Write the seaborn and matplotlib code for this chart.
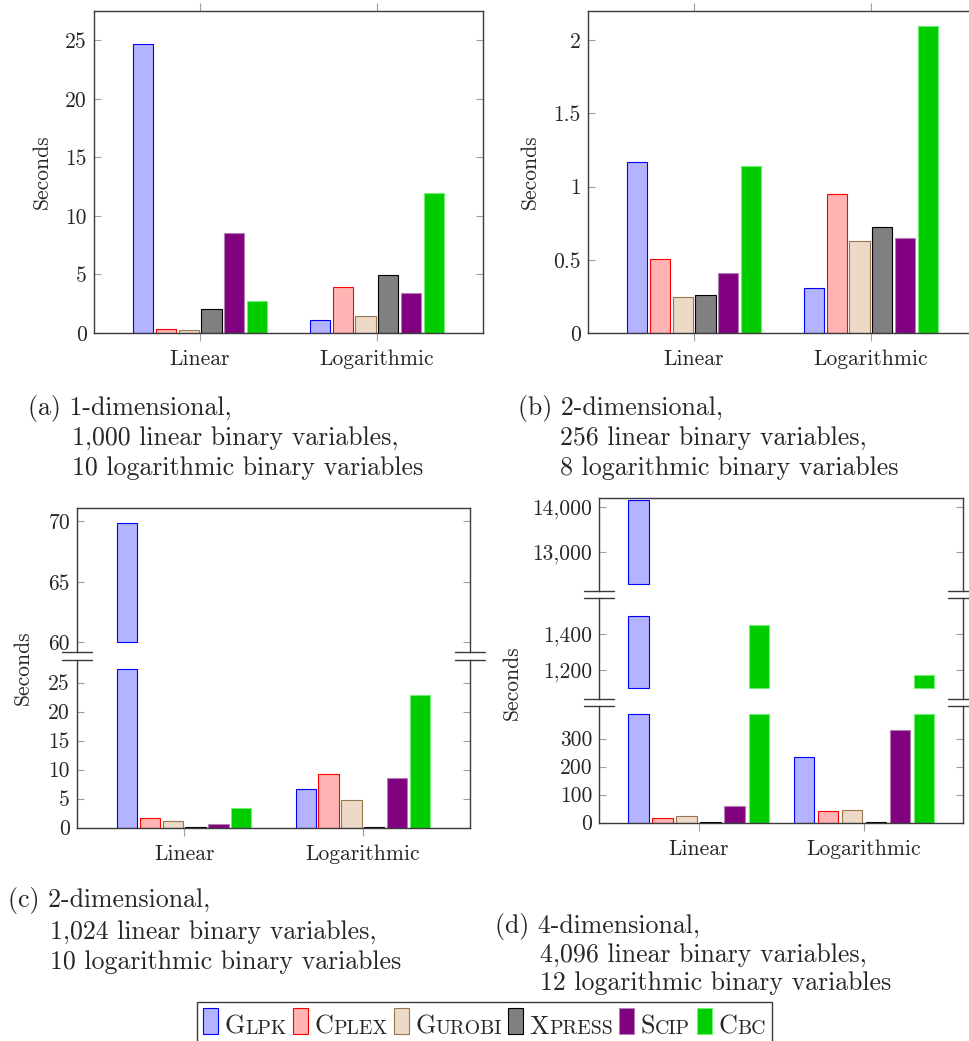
import numpy as np
import pandas as pd
import matplotlib.pyplot as plt
import seaborn as sns
from matplotlib.colors import to_hex
from matplotlib.lines import Line2D
from matplotlib.patches import Rectangle
from matplotlib.offsetbox import AnchoredOffsetbox, DrawingArea, HPacker, TextArea

solvers = ["Glpk", "Cplex", "Gurobi", "Xpress", "Scip", "Cbc"]
encodings = ["Linear", "Logarithmic"]

# seconds, one entry per solver (same order as `solvers`)
a_linear = [24.7, 0.33, 0.25, 2.05, 8.55, 2.72]
a_log = [1.12, 3.95, 1.42, 4.92, 3.45, 11.95]
b_linear = [1.165, 0.507, 0.248, 0.257, 0.407, 1.138]
b_log = [0.305, 0.947, 0.626, 0.726, 0.646, 2.10]
c_linear = [69.9, 1.6, 1.1, 0.05, 0.64, 3.34]
c_log = [6.7, 9.24, 4.77, 0.05, 8.55, 22.8]
d_linear = [14140, 18, 23, 1, 58, 1450]
d_log = [236, 43, 44, 1.5, 332, 1170]

captions = {
    "a": ["(a) 1-dimensional,", "1,000 linear binary variables,", "10 logarithmic binary variables"],
    "b": ["(b) 2-dimensional,", "256 linear binary variables,", "8 logarithmic binary variables"],
    "c": ["(c) 2-dimensional,", "1,024 linear binary variables,", "10 logarithmic binary variables"],
    "d": ["(d) 4-dimensional,", "4,096 linear binary variables,", "12 logarithmic binary variables"],
}

faces = ["#B3B3FF", "#FFB3B3", "#ECD9C6", "#808080", "#800080", "#00CC00"]
edges = ["#0000FF", "#FF0000", "#9C7650", "#000000", "#B080B0", "#70F070"]
edge_of = {to_hex(f): e for f, e in zip(faces, edges)}

sns.set_style("white")
plt.rcParams["font.family"] = "cmr10"
plt.rcParams["mathtext.fontset"] = "cm"
plt.rcParams["axes.formatter.use_mathtext"] = True
plt.rcParams["axes.unicode_minus"] = False

W, H = 969, 1041
FS = 15.5
CAP_FS = 18.6
SPINE = "#3a3a3a"
TICK = "#a0a0a0"
fig = plt.figure(figsize=(W / 100, H / 100), dpi=100)


def px_axes(left, right, top, bottom):
    return fig.add_axes([left / W, 1 - bottom / H, (right - left) / W, (bottom - top) / H])


def bar_section(ax, linear, log, ylim, ticks, labels, spacing, step,
                lo=None, hi=None, xbottom=True, xtop=False):
    df = pd.DataFrame({
        "encoding": np.repeat(encodings, len(solvers)),
        "solver": solvers * 2,
        "seconds": linear + log,
    })
    base = 0 if lo is None else lo
    shown = df["seconds"].clip(upper=hi) - base
    if lo is not None:
        shown[df["seconds"] <= lo] = np.nan
    df["shown"] = shown

    sns.barplot(data=df, x="encoding", y="shown", hue="solver",
                order=encodings, hue_order=solvers,
                palette=dict(zip(solvers, faces)), saturation=1,
                width=6 * step / spacing, gap=1 - 20.3 / step,
                bottom=base, linewidth=0.8, errorbar=None,
                legend=False, ax=ax)
    for p in ax.patches:
        p.set_edgecolor(edge_of[to_hex(p.get_facecolor())])

    ax.set_xlim(-0.6, 1.6)
    ax.set_ylim(*ylim)
    ax.set_yticks(ticks, labels)
    ax.set_xlabel("")
    ax.set_ylabel("")
    for s in ax.spines.values():
        s.set_color(SPINE)
        s.set_linewidth(1.0)
    ax.tick_params(axis="y", left=True, right=True, direction="in", length=5,
                   width=0.8, color=TICK, labelsize=FS, pad=5)
    ax.tick_params(axis="x", bottom=xbottom, top=xtop, labelbottom=xbottom,
                   direction="out", length=5.8, width=0.8, color=TICK,
                   labelsize=FS, pad=6)


def break_marks(left, right, y):
    for x in (left, right):
        fig.add_artist(Line2D([(x - 15) / W, (x + 15) / W], [1 - y / H] * 2,
                              color=SPINE, lw=1.0))


def ylabel(x, y):
    fig.text(x / W, 1 - y / H, "Seconds", rotation=90, ha="center", va="center", fontsize=FS)


def caption(lines, x0, x1, ys):
    for i, (line, y) in enumerate(zip(lines, ys)):
        fig.text((x0 if i == 0 else x1) / W, 1 - y / H, line, ha="left",
                 va="baseline", fontsize=CAP_FS)


# (a)
ax = px_axes(94, 483, 11, 333)
bar_section(ax, a_linear, a_log, (0, 27.5), [0, 5, 10, 15, 20, 25],
            ["0", "5", "10", "15", "20", "25"], 177, 22.8, xtop=True)
ylabel(42, 172)

# (b)
ax = px_axes(588, 977, 11, 333)
bar_section(ax, b_linear, b_log, (0, 2.2), [0, 0.5, 1, 1.5, 2],
            ["0", "0.5", "1", "1.5", "2"], 177, 22.8, xtop=True)
ylabel(530, 172)

# (c) broken axis
ax = px_axes(77, 470, 508, 651.7)
bar_section(ax, c_linear, c_log, (59.23, 71.1), [60, 65, 70], ["60", "65", "70"],
            178.3, 22.8, lo=60, xbottom=False)
ax.spines["bottom"].set_visible(False)
ax = px_axes(77, 470, 660, 827.7)
bar_section(ax, c_linear, c_log, (0, 28.9), [0, 5, 10, 15, 20, 25],
            ["0", "5", "10", "15", "20", "25"], 178.3, 22.8, hi=27.4)
ax.spines["top"].set_visible(False)
break_marks(77, 470, 651.7)
break_marks(77, 470, 660)
ylabel(23, 667.5)

# (d) twice broken axis
ax = px_axes(599.3, 963.3, 498.3, 590.7)
bar_section(ax, d_linear, d_log, (12160, 14184), [13000, 14000], ["13,000", "14,000"],
            165, 24, lo=12300, xbottom=False)
ax.spines["bottom"].set_visible(False)
ax = px_axes(599.3, 963.3, 598.3, 699)
bar_section(ax, d_linear, d_log, (1037, 1597), [1200, 1400], ["1,200", "1,400"],
            165, 24, lo=1100, hi=1500, xbottom=False)
ax.spines["bottom"].set_visible(False)
ax.spines["top"].set_visible(False)
ax = px_axes(599.3, 963.3, 706, 822.7)
bar_section(ax, d_linear, d_log, (0, 416.8), [0, 100, 200, 300],
            ["0", "100", "200", "300"], 165, 24, hi=388)
ax.spines["top"].set_visible(False)
for y in (590.7, 598.3, 699, 706):
    break_marks(599.3, 963.3, y)
ylabel(511.7, 682.5)

caption(captions["a"], 28, 72, [414.5, 445, 474.5])
caption(captions["b"], 518, 560, [414.5, 445, 474.5])
caption(captions["c"], 8, 50, [907.5, 939, 969])
caption(captions["d"], 495, 540, [932.5, 961.5, 990])

# legend with small-caps solver names
items = []
for name, fc, ec in zip(solvers, faces, edges):
    da = DrawingArea(10.8, 18.7, 0, 0)
    da.add_artist(Rectangle((0, 0), 10.8, 18.7, facecolor=fc, edgecolor=ec, lw=0.8))
    word = HPacker(children=[TextArea(name[0], textprops=dict(size=18.8)),
                             TextArea(name[1:].upper(), textprops=dict(size=14.3))],
                   sep=0, pad=0, align="baseline")
    items += [da, word]
row = HPacker(children=items, sep=4.6, pad=0, align="baseline")
box = AnchoredOffsetbox(loc="upper left", child=row, pad=0.45, borderpad=0,
                        prop=dict(size=10), frameon=True,
                        bbox_to_anchor=(197 / W, 1 - 1001.7 / H),
                        bbox_transform=fig.transFigure)
box.patch.set_edgecolor(SPINE)
box.patch.set_linewidth(1.0)
fig.add_artist(box)

fig.savefig("out.png", dpi=100)
